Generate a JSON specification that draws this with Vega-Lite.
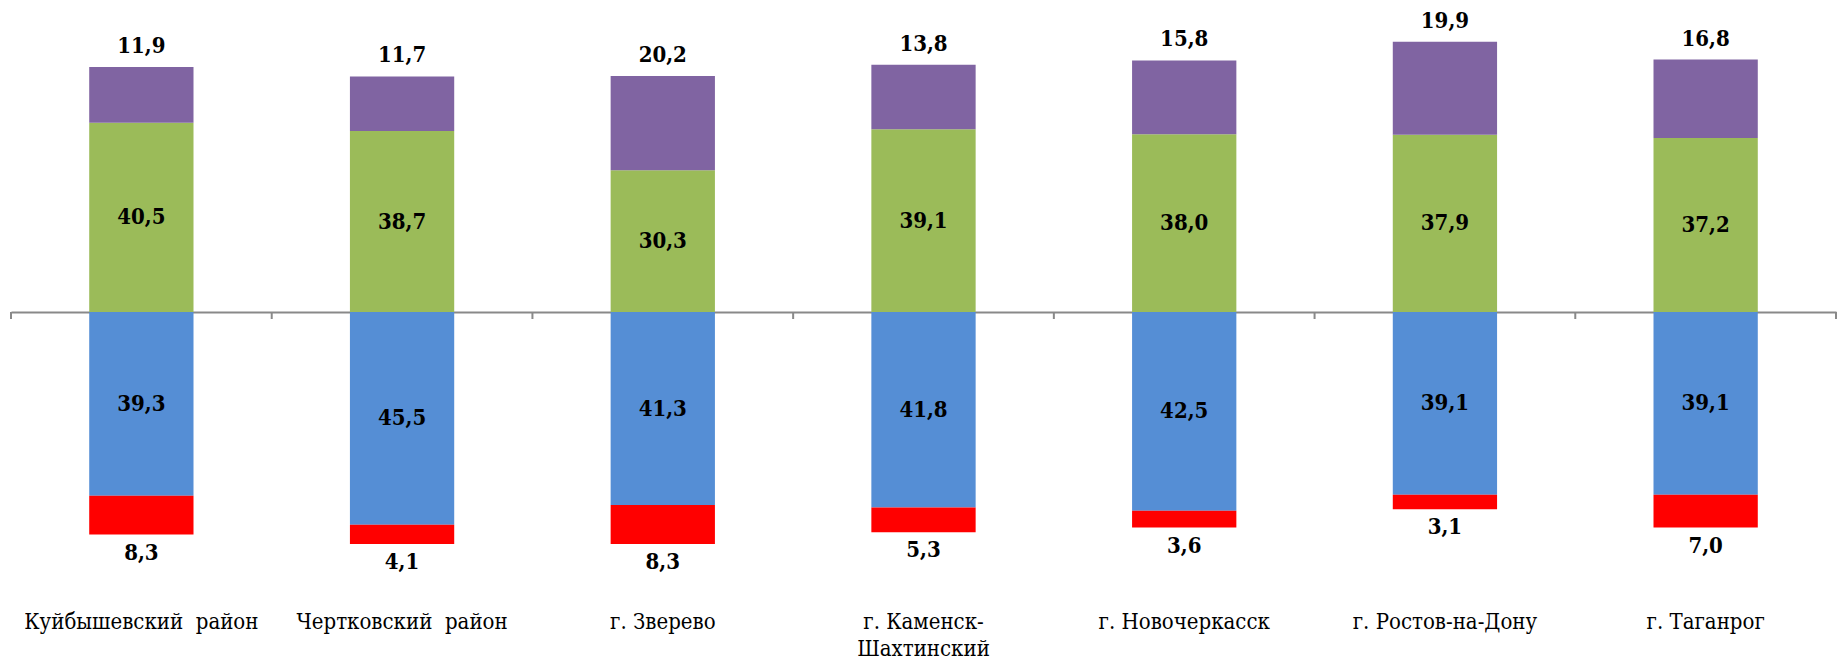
{
  "$schema": "https://vega.github.io/schema/vega-lite/v6.json",
  "width": 1825,
  "height": 668,
  "autosize": {"type": "none"},
  "padding": {"left": 11, "right": 7, "top": 0, "bottom": 0},
  "config": {
    "view": {"stroke": null},
    "locale": {"number": {"decimal": ",", "thousands": " ", "grouping": [3], "currency": ["", ""], "minus": ""}}
  },
  "data": {
    "values": [
      {"region": "Куйбышевский район", "series": "Серия 1", "value": 40.5},
      {"region": "Куйбышевский район", "series": "Серия 2", "value": 11.9},
      {"region": "Куйбышевский район", "series": "Серия 3", "value": -39.3},
      {"region": "Куйбышевский район", "series": "Серия 4", "value": -8.3},
      {"region": "Чертковский район", "series": "Серия 1", "value": 38.7},
      {"region": "Чертковский район", "series": "Серия 2", "value": 11.7},
      {"region": "Чертковский район", "series": "Серия 3", "value": -45.5},
      {"region": "Чертковский район", "series": "Серия 4", "value": -4.1},
      {"region": "г. Зверево", "series": "Серия 1", "value": 30.3},
      {"region": "г. Зверево", "series": "Серия 2", "value": 20.2},
      {"region": "г. Зверево", "series": "Серия 3", "value": -41.3},
      {"region": "г. Зверево", "series": "Серия 4", "value": -8.3},
      {"region": "г. Каменск-Шахтинский", "series": "Серия 1", "value": 39.1},
      {"region": "г. Каменск-Шахтинский", "series": "Серия 2", "value": 13.8},
      {"region": "г. Каменск-Шахтинский", "series": "Серия 3", "value": -41.8},
      {"region": "г. Каменск-Шахтинский", "series": "Серия 4", "value": -5.3},
      {"region": "г. Новочеркасск", "series": "Серия 1", "value": 38.0},
      {"region": "г. Новочеркасск", "series": "Серия 2", "value": 15.8},
      {"region": "г. Новочеркасск", "series": "Серия 3", "value": -42.5},
      {"region": "г. Новочеркасск", "series": "Серия 4", "value": -3.6},
      {"region": "г. Ростов-на-Дону", "series": "Серия 1", "value": 37.9},
      {"region": "г. Ростов-на-Дону", "series": "Серия 2", "value": 19.9},
      {"region": "г. Ростов-на-Дону", "series": "Серия 3", "value": -39.1},
      {"region": "г. Ростов-на-Дону", "series": "Серия 4", "value": -3.1},
      {"region": "г. Таганрог", "series": "Серия 1", "value": 37.2},
      {"region": "г. Таганрог", "series": "Серия 2", "value": 16.8},
      {"region": "г. Таганрог", "series": "Серия 3", "value": -39.1},
      {"region": "г. Таганрог", "series": "Серия 4", "value": -7.0}
    ]
  },
  "transform": [
    {"stack": "value", "groupby": ["region"], "sort": [{"field": "series", "order": "ascending"}], "offset": "zero", "as": ["v0", "v1"]}
  ],
  "encoding": {
    "x": {
      "field": "region",
      "type": "nominal",
      "scale": {
        "domain": ["Куйбышевский район", "Чертковский район", "г. Зверево", "г. Каменск-Шахтинский", "г. Новочеркасск", "г. Ростов-на-Дону", "г. Таганрог"],
        "paddingInner": 0.6,
        "paddingOuter": 0.3
      },
      "axis": {
        "title": null,
        "orient": "bottom",
        "offset": -356,
        "domain": true,
        "domainColor": "#898989",
        "domainWidth": 2,
        "ticks": false,
        "labelFont": "DejaVu Serif Condensed",
        "labelFontSize": 22,
        "labelColor": "black",
        "labelPadding": 299,
        "labelLimit": 0,
        "labelAngle": 0,
        "labelOverlap": false,
        "labelLineHeight": 27,
        "labelExpr": "datum.value == 'г. Каменск-Шахтинский' ? ['г. Каменск-', 'Шахтинский'] : replace(datum.label, ' район', '\u00a0\u00a0район')"
      }
    }
  },
  "layer": [
    {
      "mark": {"type": "bar"},
      "encoding": {
        "y": {"field": "v0", "type": "quantitative", "stack": null, "scale": {"domain": [-76.15, 66.74], "nice": false, "zero": false}, "axis": null},
        "y2": {"field": "v1"},
        "color": {
          "field": "series",
          "type": "nominal",
          "scale": {"domain": ["Серия 1", "Серия 2", "Серия 3", "Серия 4"], "range": ["#9BBB59", "#8064A2", "#558ED5", "#FF0000"]},
          "legend": null
        }
      }
    },
    {
      "transform": [{"filter": "datum.series == 'Серия 1'"}],
      "mark": {"type": "rule", "color": "#898989", "strokeWidth": 2},
      "encoding": {
        "x": {"field": "region", "type": "nominal", "bandPosition": -0.75},
        "y": {"datum": 0, "type": "quantitative", "scale": {"domain": [-76.15, 66.74], "nice": false, "zero": false}, "axis": null},
        "y2": {"datum": -1.5}
      }
    },
    {
      "transform": [{"filter": "datum.series == 'Серия 1' && datum.region == 'г. Таганрог'"}],
      "mark": {"type": "rule", "color": "#898989", "strokeWidth": 2},
      "encoding": {
        "x": {"field": "region", "type": "nominal", "bandPosition": 1.75},
        "y": {"datum": 0, "type": "quantitative", "scale": {"domain": [-76.15, 66.74], "nice": false, "zero": false}, "axis": null},
        "y2": {"datum": -1.5}
      }
    },
    {
      "transform": [
        {"filter": "datum.series == 'Серия 1' || datum.series == 'Серия 3'"},
        {"fold": ["v0", "v1"], "as": ["k", "pos"]},
        {"aggregate": [{"op": "mean", "field": "pos", "as": "mid"}], "groupby": ["region", "series", "value"]}
      ],
      "mark": {"type": "text", "font": "DejaVu Serif Condensed", "fontSize": 22, "fontWeight": "bold", "color": "black", "baseline": "middle"},
      "encoding": {
        "y": {"field": "mid", "type": "quantitative", "scale": {"domain": [-76.15, 66.74], "nice": false, "zero": false}, "axis": null},
        "text": {"field": "value", "type": "quantitative", "format": ".1f"}
      }
    },
    {
      "transform": [{"filter": "datum.series == 'Серия 2'"}],
      "mark": {"type": "text", "font": "DejaVu Serif Condensed", "fontSize": 22, "fontWeight": "bold", "color": "black", "baseline": "alphabetic", "dy": -14},
      "encoding": {
        "y": {"field": "v1", "type": "quantitative", "scale": {"domain": [-76.15, 66.74], "nice": false, "zero": false}, "axis": null},
        "text": {"field": "value", "type": "quantitative", "format": ".1f"}
      }
    },
    {
      "transform": [{"filter": "datum.series == 'Серия 4'"}],
      "mark": {"type": "text", "font": "DejaVu Serif Condensed", "fontSize": 22, "fontWeight": "bold", "color": "black", "baseline": "alphabetic", "dy": 25},
      "encoding": {
        "y": {"field": "v1", "type": "quantitative", "scale": {"domain": [-76.15, 66.74], "nice": false, "zero": false}, "axis": null},
        "text": {"field": "value", "type": "quantitative", "format": ".1f"}
      }
    }
  ]
}
